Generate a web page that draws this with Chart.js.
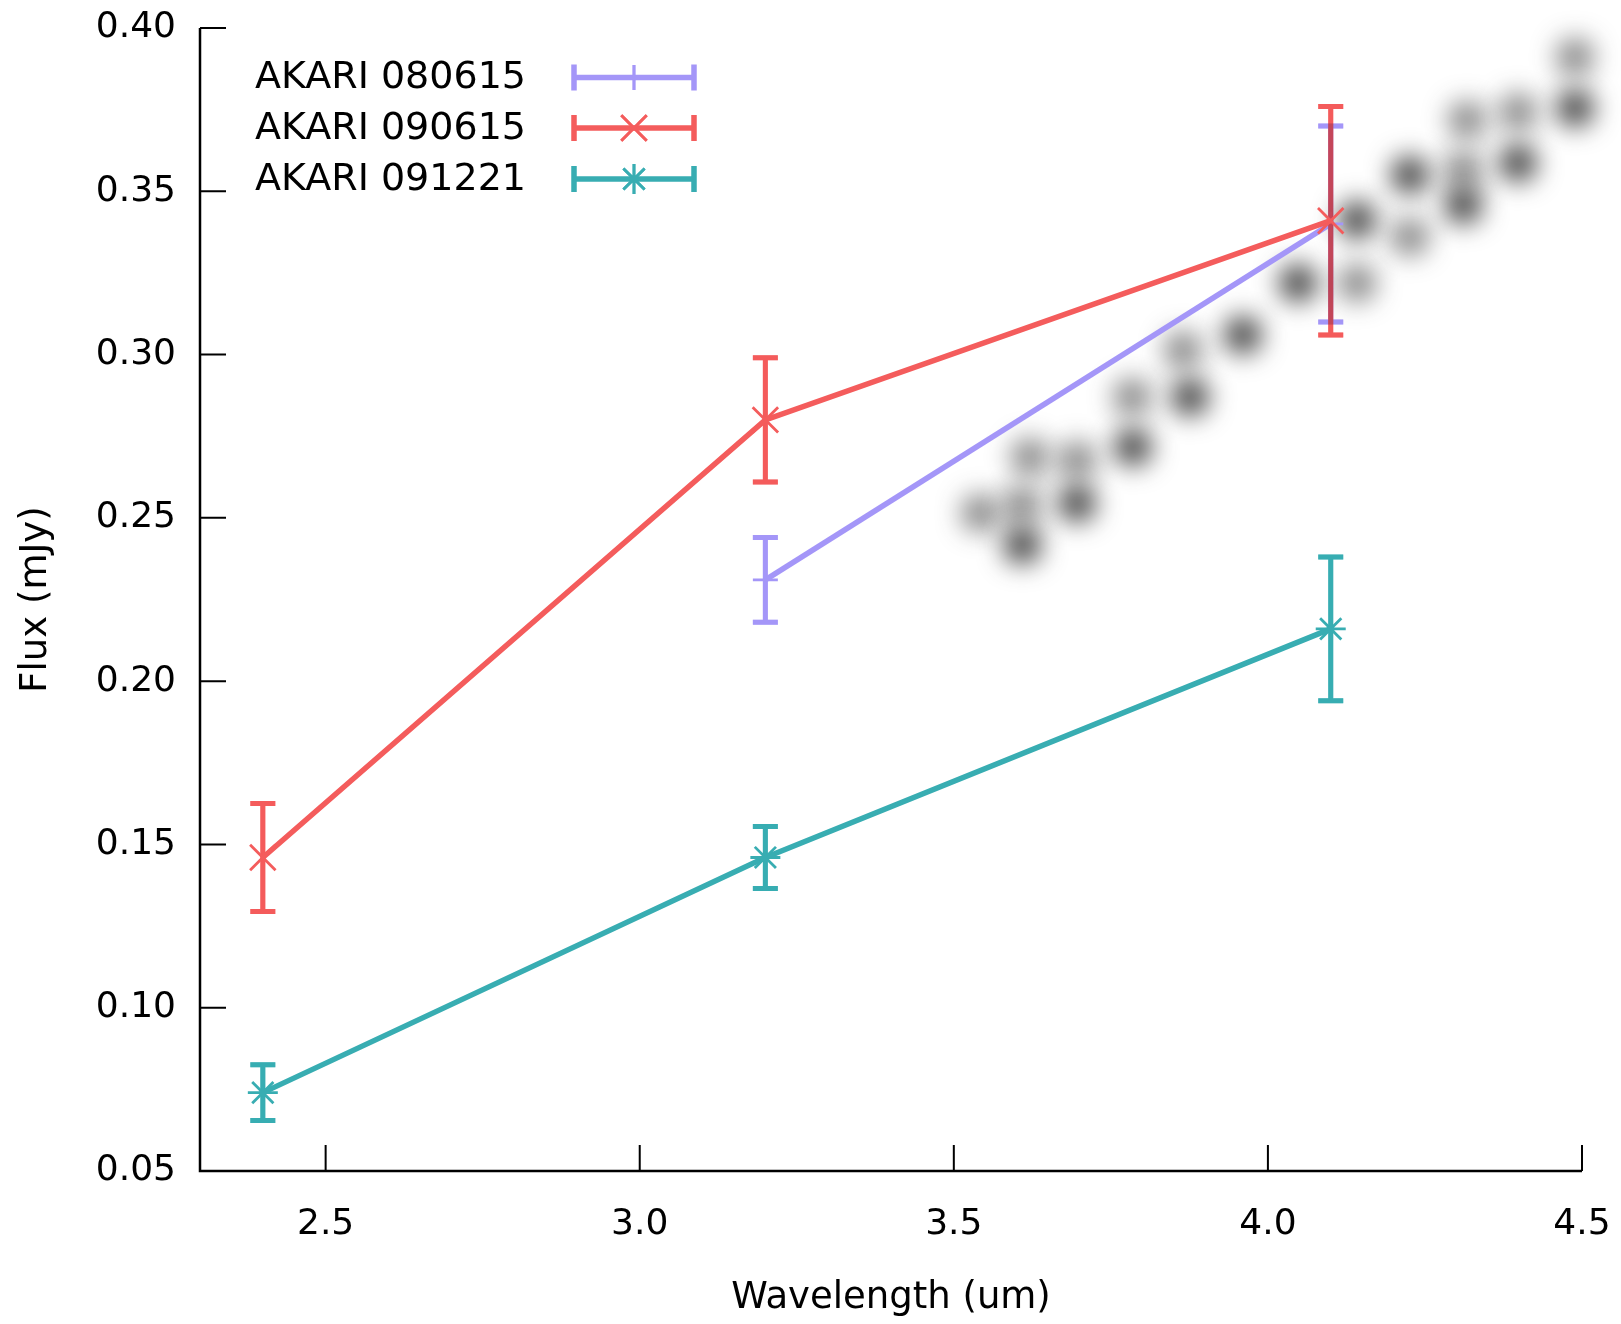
<!DOCTYPE html>
<html>
<head>
<meta charset="utf-8">
<script src="https://cdn.jsdelivr.net/npm/chart.js@4.4.1/dist/chart.umd.min.js"></script>
<style>
  html, body { margin: 0; padding: 0; background: #ffffff; }
  #chart { display: block; }
</style>
</head>
<body>
<canvas id="chart" width="1621" height="1324"></canvas>
<script>
// ---------------------------
// Data
// ---------------------------
const wavelength = [2.4, 3.2, 4.1];

const flux080615 = [null, 0.231, 0.340];
const err080615 = [null, 0.013, 0.030];

const flux090615 = [0.146, 0.280, 0.341];
const err090615 = [0.0165, 0.019, 0.035];

const flux091221 = [0.074, 0.146, 0.216];
const err091221 = [0.0085, 0.0095, 0.022];

const seriesNames = ["AKARI 080615", "AKARI 090615", "AKARI 091221"];

const xTicks = [2.5, 3.0, 3.5, 4.0, 4.5];
const yTicks = [0.05, 0.10, 0.15, 0.20, 0.25, 0.30, 0.35, 0.40];

// blurred grey smudge in the upper right (dark and faint spots)
const smudgeDarkX = [3.609, 3.696, 3.785, 3.876, 3.960, 4.048, 4.142, 4.226, 4.311, 4.398, 4.489];
const smudgeDarkY = [0.2417, 0.2545, 0.2717, 0.2870, 0.3060, 0.3219, 0.3412, 0.3550, 0.3458, 0.3587, 0.3755];
const smudgeFaintX = [3.542, 3.609, 3.621, 3.696, 3.784, 3.865, 4.142, 4.226, 4.311, 4.317, 4.398, 4.489, 4.556];
const smudgeFaintY = [0.2515, 0.2539, 0.2686, 0.2677, 0.2870, 0.3014, 0.3219, 0.3360, 0.3565, 0.3718, 0.3743, 0.3911, 0.3933];

// ---------------------------
// Styling
// ---------------------------
const FONT = "'DejaVu Sans', 'Verdana', sans-serif";
const colors = ["#a496f8", "#f45c5c", "#38adb2"];
const markers = [
  { style: "cross", radius: 12.5 },
  { style: "crossRot", radius: 18 },
  { style: "star", radius: 15 },
];

function toPoints(xs, ys) {
  const pts = [];
  for (let i = 0; i < xs.length; i++) {
    if (ys[i] === null) continue;
    pts.push({ x: xs[i], y: ys[i] });
  }
  return pts;
}

function seriesDataset(i, values, errors) {
  return {
    label: seriesNames[i],
    data: toPoints(wavelength, values),
    errors: errors.filter(e => e !== null),
    borderColor: colors[i],
    backgroundColor: colors[i],
    borderWidth: 5.5,
    pointStyle: markers[i].style,
    pointRadius: markers[i].radius,
    pointBorderWidth: 2.8,
    pointBorderColor: colors[i],
    tension: 0,
    fill: false,
    order: 3 - i,
    isSeries: true,
  };
}

function smudgeDataset(xs, ys, color) {
  return {
    label: "smudge",
    data: toPoints(xs, ys),
    showLine: false,
    pointRadius: 19,
    pointBorderWidth: 0,
    pointBackgroundColor: color,
    pointBorderColor: color,
    clip: false,
    order: 10,
    isSmudge: true,
  };
}

// kill the extra room Chart.js reserves for overflowing tick labels
function noScalePadding(scale) {
  scale.paddingTop = 0;
  scale.paddingBottom = 0;
  scale.paddingLeft = 0;
  scale.paddingRight = 0;
}

// ---------------------------
// Plugins: axes with inward ticks, error bars, legend
// ---------------------------
const axesPlugin = {
  id: "gnuAxes",
  beforeDatasetsDraw(chart) {
    const { ctx, chartArea: a, scales: { x, y } } = chart;
    ctx.save();
    ctx.strokeStyle = "#000000";
    ctx.lineWidth = 2.5;
    ctx.beginPath();
    ctx.moveTo(a.left, a.top);
    ctx.lineTo(a.left, a.bottom);
    ctx.lineTo(a.right, a.bottom);
    ctx.stroke();
    ctx.lineWidth = 2;
    ctx.beginPath();
    xTicks.forEach(v => {
      const px = x.getPixelForValue(v);
      ctx.moveTo(px, a.bottom);
      ctx.lineTo(px, a.bottom - 26);
    });
    yTicks.forEach(v => {
      const py = y.getPixelForValue(v);
      ctx.moveTo(a.left, py);
      ctx.lineTo(a.left + 26, py);
    });
    ctx.stroke();
    ctx.restore();
  },
};

function strokeErrorBars(chart, ds) {
  const ctx = chart.ctx;
  const { x, y } = chart.scales;
  ctx.strokeStyle = ds.borderColor;
  ctx.lineWidth = 5;
  ctx.lineCap = "butt";
  ds.data.forEach((p, k) => {
    const e = ds.errors[k];
    const px = x.getPixelForValue(p.x);
    const top = y.getPixelForValue(p.y + e);
    const bot = y.getPixelForValue(p.y - e);
    ctx.beginPath();
    ctx.moveTo(px, top);
    ctx.lineTo(px, bot);
    ctx.moveTo(px - 12.5, top);
    ctx.lineTo(px + 12.5, top);
    ctx.moveTo(px - 12.5, bot);
    ctx.lineTo(px + 12.5, bot);
    ctx.stroke();
  });
}

const errorBarPlugin = {
  id: "errorBars",
  beforeDatasetDraw(chart, args) {
    const ds = chart.data.datasets[args.index];
    const ctx = chart.ctx;
    if (ds.isSeries) {
      // bars go under their own line; they darken whatever series is already below
      ctx.save();
      ctx.globalCompositeOperation = "multiply";
      strokeErrorBars(chart, ds);
      ctx.globalCompositeOperation = "source-over";
      ctx.globalAlpha = 0.45;
      strokeErrorBars(chart, ds);
      ctx.restore();
    }
    ctx.save();
    if (ds.isSmudge) ctx.filter = "blur(13px)";
  },
  afterDatasetDraw(chart) {
    chart.ctx.restore();
  },
};

const legendPlugin = {
  id: "gnuLegend",
  afterDraw(chart) {
    const ctx = chart.ctx;
    const rows = [77.5, 128, 179];
    const x0 = 574, x1 = 694, xm = 634;
    ctx.save();
    ctx.font = "38px " + FONT;
    ctx.textAlign = "left";
    ctx.textBaseline = "middle";
    rows.forEach((ry, i) => {
      ctx.fillStyle = "#000000";
      ctx.fillText(seriesNames[i], 255, ry + 1);
      ctx.strokeStyle = colors[i];
      ctx.lineWidth = 5.5;
      ctx.beginPath();
      ctx.moveTo(x0, ry);
      ctx.lineTo(x1, ry);
      ctx.moveTo(x0, ry - 13);
      ctx.lineTo(x0, ry + 13);
      ctx.moveTo(x1, ry - 13);
      ctx.lineTo(x1, ry + 13);
      ctx.stroke();
      ctx.lineWidth = 2.8;
      Chart.helpers.drawPoint(ctx, {
        pointStyle: markers[i].style,
        radius: markers[i].radius,
        borderWidth: 2.8,
        rotation: 0,
      }, xm, ry);
      ctx.stroke();
    });
    ctx.restore();
  },
};

// ---------------------------
// Chart
// ---------------------------
const tickFont = { family: FONT, size: 36 };
const titleFont = { family: FONT, size: 37, lineHeight: 1 };

new Chart(document.getElementById("chart").getContext("2d"), {
  type: "line",
  data: {
    datasets: [
      seriesDataset(0, flux080615, err080615),
      seriesDataset(1, flux090615, err090615),
      seriesDataset(2, flux091221, err091221),
      smudgeDataset(smudgeDarkX, smudgeDarkY, "rgba(35,35,35,0.85)"),
      smudgeDataset(smudgeFaintX, smudgeFaintY, "rgba(35,35,35,0.55)"),
    ],
  },
  options: {
    responsive: false,
    animation: false,
    events: [],
    devicePixelRatio: 1,
    layout: { padding: { top: 28, right: 39, left: 0, bottom: 0 } },
    plugins: {
      legend: { display: false },
      tooltip: { enabled: false },
    },
    scales: {
      x: {
        type: "linear",
        min: 2.3,
        max: 4.5,
        afterBuildTicks: scale => { scale.ticks = xTicks.map(v => ({ value: v })); },
        afterFit: scale => { scale.height = 153; noScalePadding(scale); },
        grid: { display: false, drawTicks: false },
        border: { display: false },
        ticks: {
          autoSkip: false,
          maxRotation: 0,
          padding: 32,
          color: "#000000",
          font: tickFont,
          callback: v => Number(v).toFixed(1),
        },
        title: {
          display: true,
          text: "Wavelength (um)",
          color: "#000000",
          font: titleFont,
          padding: { top: 0, bottom: 7 },
        },
      },
      y: {
        type: "linear",
        min: 0.05,
        max: 0.40,
        afterBuildTicks: scale => { scale.ticks = yTicks.map(v => ({ value: v })); },
        afterFit: scale => { scale.width = 200; noScalePadding(scale); },
        grid: { display: false, drawTicks: false },
        border: { display: false },
        ticks: {
          padding: 24,
          color: "#000000",
          font: tickFont,
          callback: v => Number(v).toFixed(2),
        },
        title: {
          display: true,
          text: "Flux (mJy)",
          color: "#000000",
          font: titleFont,
          padding: { top: 18, bottom: 0 },
        },
      },
    },
  },
  plugins: [axesPlugin, errorBarPlugin, legendPlugin],
});
</script>
</body>
</html>
